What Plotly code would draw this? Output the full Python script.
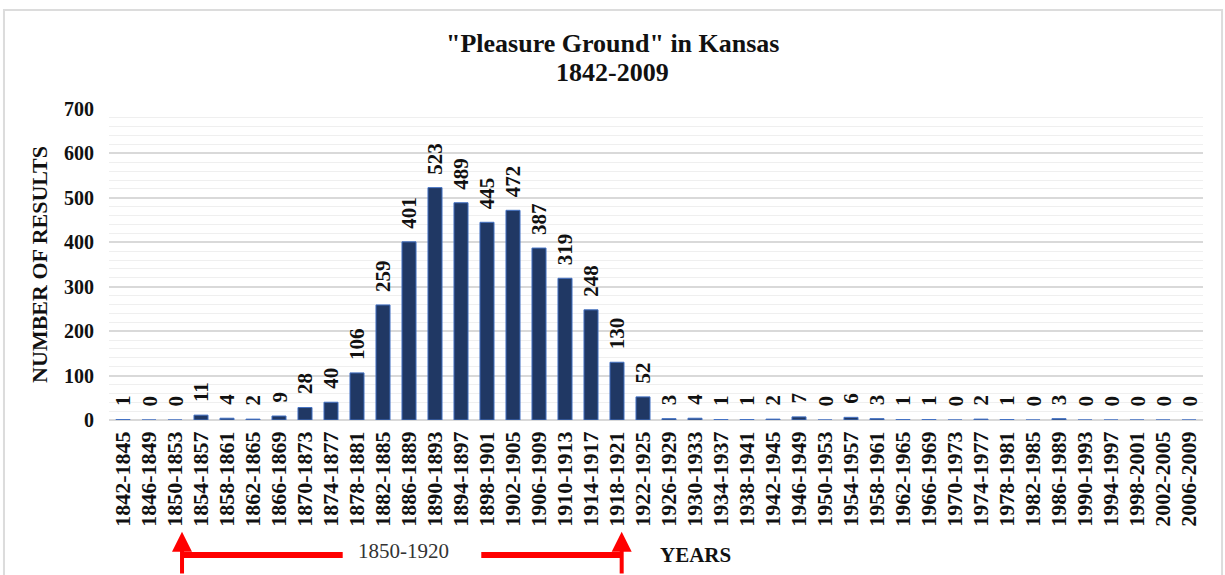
import plotly.graph_objects as go

start_years = list(range(1842, 2007, 4))
categories = [f"{y}-{y+3}" for y in start_years]
values = [1, 0, 0, 11, 4, 2, 9, 28, 40, 106, 259, 401, 523, 489, 445, 472, 387,
          319, 248, 130, 52, 3, 4, 1, 1, 2, 7, 0, 6, 3, 1, 1, 0, 2, 1, 0, 3,
          0, 0, 0, 0, 0]
y_ticks = [0, 100, 200, 300, 400, 500, 600, 700]
title_lines = ["\"Pleasure Ground\" in Kansas", "1842-2009"]

FONT = "Liberation Serif"
BAR_FILL = "#203864"
BAR_LINE = "#4472C4"
RED = "#FF0000"
INK = "#111111"

fig = go.Figure()
fig.add_trace(go.Bar(
    x=categories, y=values,
    marker=dict(color=BAR_FILL, line=dict(color=BAR_LINE, width=1)),
    hoverinfo="x+y",
))

# data labels
for c, v in zip(categories, values):
    fig.add_annotation(
        x=c, y=v, xref="x", yref="y", text=f"<b>{v}</b>", showarrow=False,
        textangle=-90, yanchor="bottom", xanchor="center", yshift=11,
        font=dict(family=FONT, size=21, color=INK),
    )

# title (two lines)
for line, py in zip(title_lines, (1.212, 1.116)):
    fig.add_annotation(x=0.46, xref="paper", y=py, yref="paper", text=f"<b>{line}</b>",
                       showarrow=False, xanchor="center", yanchor="middle",
                       font=dict(family=FONT, size=26, color=INK))

# span annotation 1850-1920
x_left, x_right = 2.27, 19.18
for xa in (x_left, x_right):
    fig.add_annotation(
        x=xa, y=-0.359, xref="x", yref="paper", text="", showarrow=True,
        ax=0, ay=45, axref="pixel", ayref="pixel",
        arrowhead=2, arrowsize=1.0, arrowwidth=4, arrowcolor=RED,
    )
fig.add_shape(type="line", xref="x", yref="paper", x0=x_left, x1=8.45,
              y0=-0.434, y1=-0.434, line=dict(color=RED, width=6))
fig.add_shape(type="line", xref="x", yref="paper", x0=13.78, x1=x_right,
              y0=-0.434, y1=-0.434, line=dict(color=RED, width=6))
fig.add_annotation(x=10.79, y=-0.421, xref="x", yref="paper", text="1850-1920",
                   showarrow=False, xanchor="center", yanchor="middle",
                   font=dict(family=FONT, size=21, color="#333333"))
fig.add_annotation(x=22.02, y=-0.434, xref="x", yref="paper", text="<b>YEARS</b>",
                   showarrow=False, xanchor="center", yanchor="middle",
                   font=dict(family=FONT, size=21, color=INK))

# chart frame
fig.add_shape(type="rect", xref="paper", yref="paper", x0=-0.096, x1=1.0174,
              y0=-0.6, y1=1.318, line=dict(color="#dcdcdc", width=2), layer="below")

fig.update_layout(
    width=1225, height=575,
    margin=dict(l=109, r=22, t=109, b=155, autoexpand=False),
    paper_bgcolor="white", plot_bgcolor="white",
    bargap=0.46, showlegend=False,
    font=dict(family=FONT, color=INK),
)
fig.update_xaxes(
    type="category", tickangle=-90, ticks="", showgrid=False, automargin=False,
    tickfont=dict(family=FONT, size=22, color=INK, weight="bold"),
    ticklabelstandoff=6, showline=False, zeroline=False,
)
fig.update_yaxes(
    range=[0, 700], tickvals=y_ticks, ticks="", showline=False, automargin=False,
    gridcolor="#d9d9d9", gridwidth=1.5, zeroline=True, zerolinecolor="#d9d9d9",
    zerolinewidth=1.5,
    minor=dict(dtick=20, showgrid=True, gridcolor="#efefef", gridwidth=1),
    tickfont=dict(family=FONT, size=20, color=INK, weight="bold"),
    ticklabelstandoff=14,
    title=dict(text="<b>NUMBER OF RESULTS</b>", standoff=10,
               font=dict(family=FONT, size=22, color=INK)),
)

fig.write_html("out.html", config={"displayModeBar": False},
               post_script="document.body.style.margin='0';document.body.style.overflow='hidden';")
